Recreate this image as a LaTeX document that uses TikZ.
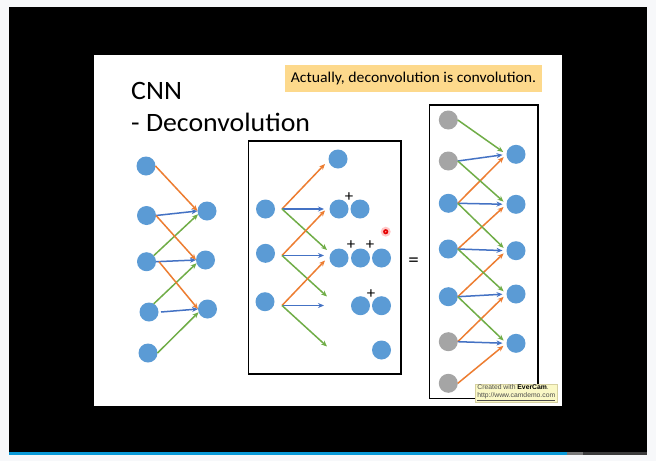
\documentclass[tikz,border=0pt]{standalone}
\usepackage{fontspec}
\setmainfont[FakeStretch=1.05]{Carlito}
\newfontfamily\stampfont{Liberation Sans}
\usetikzlibrary{arrows.meta,calc}

\definecolor{nodeblue}{HTML}{5B9BD5}
\definecolor{nodegrey}{HTML}{A5A5A5}
\definecolor{wtorange}{HTML}{ED7D31}
\definecolor{wtgreen}{HTML}{70AD47}
\definecolor{wtblue}{HTML}{4472C4}
\definecolor{notefill}{HTML}{FDD98C}
\definecolor{pagebg}{HTML}{F7F8FA}
\definecolor{barblue}{HTML}{0A9AD8}
\definecolor{bargrey}{HTML}{787878}
\definecolor{bardark}{HTML}{3C3C3C}
\definecolor{stampfill}{HTML}{FAF8C6}
\definecolor{stampline}{HTML}{D6D0A0}

\begin{document}
\begin{tikzpicture}[x=1pt,y=-1pt,
  neuron/.style={circle,fill=nodeblue,minimum size=19pt,inner sep=0pt,outer sep=0pt},
  padneuron/.style={neuron,fill=nodegrey},
  link/.style={line width=1.5pt,-{Stealth[length=6pt,width=5pt]}},
  wa/.style={link,wtorange},
  wb/.style={link,wtblue},
  wc/.style={link,wtgreen},
  plussign/.style={inner sep=0pt,font=\fontsize{16}{16}\selectfont},
  panel/.style={draw=black,line width=1.6pt,inner sep=0pt},
  titletext/.style={anchor=base west,inner sep=0pt,font=\fontsize{26.5}{26.5}\selectfont}
]
\useasboundingbox (0,0) rectangle (656,461);

% screen surround, player frame and progress bar
\fill[pagebg] (0,0) rectangle (656,461);
\fill[black] (9,7) rectangle (647,452);
\fill[barblue] (9,452) rectangle (567,454.5);
\fill[bargrey] (567,452) rectangle (583,454.5);
\fill[bardark] (583,452) rectangle (647,454.5);
\fill[white] (94,55) rectangle (562,406);

% headings
\node[titletext] (title) at (131,99.3) {CNN};
\node[titletext] (subtitle) at (131,131) {- Deconvolution};
\node[fill=notefill,inner sep=0pt,minimum width=257pt,minimum height=27pt,
      font=\fontsize{15}{15}\selectfont] (note) at (413.5,78.5)
      {Actually, deconvolution is convolution.};

% ---- convolution view: 5 inputs, 3 outputs
\node[neuron] (a1) at (146,166) {};
\node[neuron] (a2) at (146.5,215.5) {};
\node[neuron] (a3) at (146.5,261.7) {};
\node[neuron] (a4) at (149,312) {};
\node[neuron] (a5) at (148,353) {};
\node[neuron] (b1) at (207,211) {};
\node[neuron] (b2) at (205.5,260) {};
\node[neuron] (b3) at (207.5,309) {};

\draw[wa] (a1.east) -- (b1.west);
\draw[wb] (a2.east) -- (b1.west);
\draw[wc] (a3.40) -- (b1.200);
\draw[wa] (a2.east) -- (b2.west);
\draw[wb] (a3.east) -- (b2.west);
\draw[wc] (a4.60) -- (b2.200);
\draw[wa] ([xshift=3pt]a3.east) -- (b3.west);
\draw[wb] ([xshift=2.5pt]a4.east) -- (b3.west);
\draw[wc] (a5.east) -- (b3.200);

% ---- deconvolution view: each input spreads onto three outputs
\node[panel,minimum width=152.5pt,minimum height=233pt] (midbox) at (324.75,257.5) {};

\node[neuron] (m1) at (265.5,209) {};
\node[neuron] (m2) at (265.5,253.3) {};
\node[neuron] (m3) at (265,301.7) {};

\coordinate (o1) at (282,209);
\coordinate (o2) at (282,255.5);
\coordinate (o3) at (282,305.5);
\foreach \s in {1,2,3}{
  \coordinate (up\s) at ($(o\s)+(43,-45)$);
  \coordinate (mid\s) at ($(o\s)+(42,0)$);
  \coordinate (dn\s) at ($(o\s)+(45,41)$);
  \draw[wa] (o\s) -- (up\s);
  \draw[wb] (o\s) -- (mid\s);
  \draw[wc] (o\s) -- (dn\s);
}

\node[neuron] (c1) at (338,159) {};
\node[neuron] (c2) at (339,209) {};
\node[neuron] (c3) at (360,209) {};
\node[neuron] (c4) at (339,258) {};
\node[neuron] (c5) at (360.5,258) {};
\node[neuron] (c6) at (381.5,258) {};
\node[neuron] (c7) at (360.5,305.7) {};
\node[neuron] (c8) at (381.5,305.7) {};
\node[neuron] (c9) at (381.5,350) {};

\node[plussign] (s1) at (349,197) {+};
\node[plussign] (s2) at (351,245) {+};
\node[plussign] (s3) at (370,245) {+};
\node[plussign] (s4) at (371,294) {+};

% pointer highlight
\fill[red!22] (385.7,231.7) circle (5pt);
\fill[red!90!black] (385.7,231.7) circle (2.6pt);
\fill[red!40] (385.7,231.7) circle (0.8pt);

\node[inner sep=0pt,font=\fontsize{20}{20}\selectfont] (eq) at (413.5,262.5) {=};

% ---- the same thing as a convolution over the padded input
\node[panel,minimum width=108.4pt,minimum height=293.6pt] (rbox) at (483.5,251.5) {};

\node[padneuron] (p1) at (448.3,120) {};
\node[padneuron] (p2) at (448.3,161) {};
\node[neuron] (p3) at (448.3,203.3) {};
\node[neuron] (p4) at (448.3,249) {};
\node[neuron] (p5) at (448.3,296.7) {};
\node[padneuron] (p6) at (448.3,341.7) {};
\node[padneuron] (p7) at (448.3,383.3) {};

\node[neuron] (q1) at (516,154.3) {};
\node[neuron] (q2) at (516,204.3) {};
\node[neuron] (q3) at (516,250.7) {};
\node[neuron] (q4) at (516,294) {};
\node[neuron] (q5) at (516,343.3) {};

\foreach \j [evaluate=\j as \k using int(\j+1), evaluate=\j as \l using int(\j+2)] in {1,...,5}{
  \draw[wc,shorten >=4pt] (p\j.east) -- (q\j.west);
  \draw[wb,shorten >=4pt] (p\k.east) -- (q\j.west);
  \draw[wa,shorten >=4pt] (p\l.east) -- (q\j.west);
}

% recorder stamp
\node[draw=stampline,fill=stampfill,line width=0.6pt,minimum width=82.7pt,minimum height=17.7pt,
      inner sep=1pt,align=left,text=black!70,font=\stampfont\fontsize{6.8}{7.6}\selectfont]
      (stamp) at (516.3,392.9)
      {Created with \textbf{\textcolor{black}{EverCam}}.\\\underline{http://www.camdemo.com}};
\end{tikzpicture}
\end{document}
